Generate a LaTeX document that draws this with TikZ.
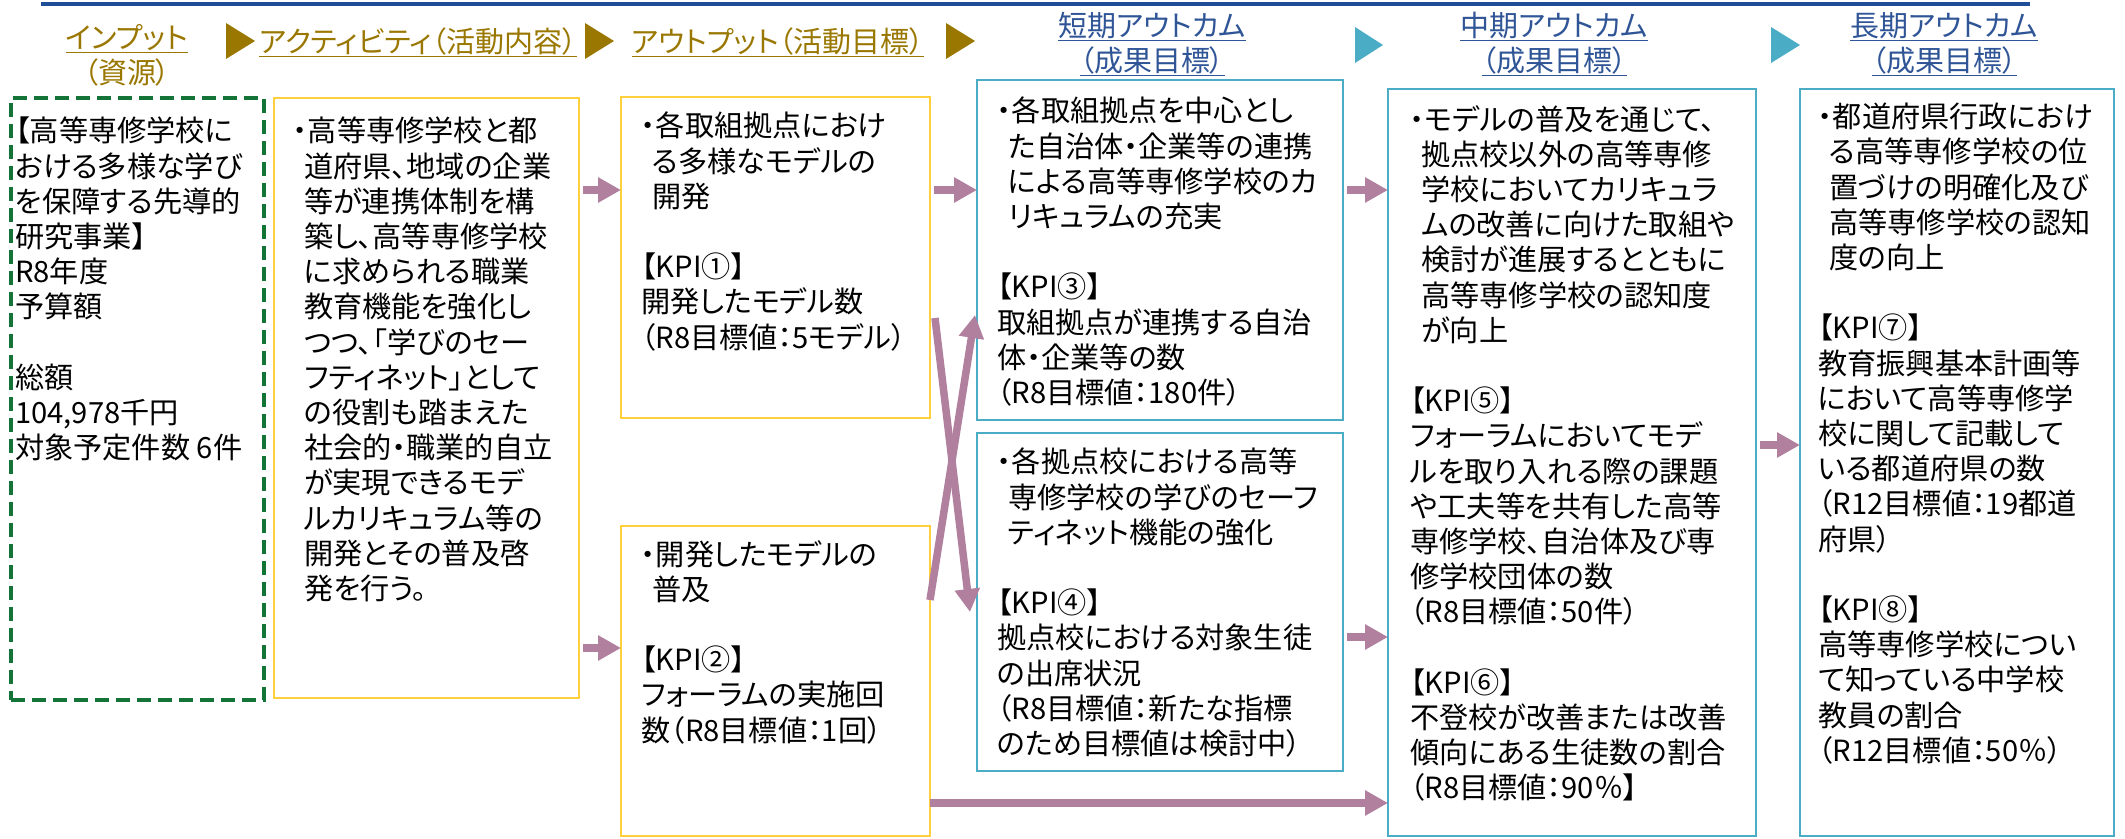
\documentclass[tikz,border=0pt]{standalone}
\usepackage{fontspec}
\usetikzlibrary{arrows.meta}
\newfontfamily\jp[RawFeature=+palt]{Noto Sans CJK JP}
\definecolor{hdgold}{RGB}{153,119,0}
\definecolor{hdblue}{RGB}{47,85,151}
\definecolor{rulblue}{RGB}{31,78,152}
\definecolor{boxyel}{RGB}{255,208,60}
\definecolor{boxteal}{RGB}{75,172,198}
\definecolor{boxgreen}{RGB}{20,115,55}
\definecolor{flowpink}{RGB}{176,128,158}
\newcommand\cont{\hspace*{11pt}}
\newcommand\skipline{\\[35.2pt]}

\begin{document}
\begin{tikzpicture}[x=1pt,y=-1pt,
  box/.style={line width=2.5pt,anchor=north west,inner sep=0pt,outer sep=0pt},
  ybox/.style={box,draw=boxyel},
  tbox/.style={box,draw=boxteal},
  gbox/.style={box,draw=boxgreen,line width=3.2pt,dash pattern=on 14pt off 7pt},
  txt/.style={anchor=north west,align=left,inner sep=0pt,font=\jp\fontsize{29.2}{35.2}\selectfont},
  head/.style={align=center,inner sep=0pt,font=\jp\fontsize{29}{35}\selectfont},
  flow/.style={draw=flowpink,line width=7.5pt,-{Triangle[length=23pt,width=24pt]}}]

\useasboundingbox (0,0) rectangle (2125,838);

% header
\draw[rulblue,line width=3.5pt] (41,4) -- (2030,4);
\node[head,text=hdgold] (inhead) at (127,55) {\underline{インプット}\\（資源）};
\node[head,text=hdgold] (acthead) at (418,42) {\underline{アクティビティ（活動内容）}};
\node[head,text=hdgold] (outhead) at (778,42) {\underline{アウトプット（活動目標）}};
\node[head,text=hdblue] (shorthead) at (1152,44) {\underline{短期アウトカム}\\\underline{（成果目標）}};
\node[head,text=hdblue] (midhead) at (1554,44) {\underline{中期アウトカム}\\\underline{（成果目標）}};
\node[head,text=hdblue] (longhead) at (1944,44) {\underline{長期アウトカム}\\\underline{（成果目標）}};
\fill[hdgold] (226,23) -- (255,41) -- (226,59) -- cycle;
\fill[hdgold] (585,23) -- (614,41) -- (585,59) -- cycle;
\fill[hdgold] (946,23) -- (975,41) -- (946,59) -- cycle;
\fill[boxteal] (1355,27) -- (1383,45) -- (1355,63) -- cycle;
\fill[boxteal] (1771,27) -- (1800,45) -- (1771,63) -- cycle;

% boxes
\node[gbox,minimum width=253pt,minimum height=602pt] (input) at (11,98) {};
\node[ybox,minimum width=305pt,minimum height=600pt] (act) at (274,98) {};
\node[ybox,minimum width=309pt,minimum height=321pt] (out1) at (621,97) {};
\node[ybox,minimum width=309pt,minimum height=310pt] (out2) at (621,526) {};
\node[tbox,minimum width=366pt,minimum height=340pt] (short1) at (977,80) {};
\node[tbox,minimum width=366pt,minimum height=338pt] (short2) at (977,433) {};
\node[tbox,minimum width=368pt,minimum height=747pt] (mid) at (1388,89) {};
\node[tbox,minimum width=314pt,minimum height=747pt] (long) at (1800,89) {};

% texts
\node[txt] (intext) at (15,117) {【高等専修学校に\\おける多様な学び\\を保障する先導的\\研究事業】\\R8年度\\予算額\skipline 総額\\104,978千円\\対象予定件数 6件};
\node[txt] (acttext) at (293,117) {・高等専修学校と都\\\cont 道府県、地域の企業\\\cont 等が連携体制を構\\\cont 築し、高等専修学校\\\cont に求められる職業\\\cont 教育機能を強化し\\\cont つつ、「学びのセー\\\cont フティネット」として\\\cont の役割も踏まえた\\\cont 社会的・職業的自立\\\cont が実現できるモデ\\\cont ルカリキュラム等の\\\cont 開発とその普及啓\\\cont 発を行う。};
\node[txt] (out1text) at (641,112) {・各取組拠点におけ\\\cont る多様なモデルの\\\cont 開発\skipline 【KPI①】\\開発したモデル数\\（R8目標値：5モデル）};
\node[txt] (out2text) at (641,540) {・開発したモデルの\\\cont 普及\skipline 【KPI②】\\フォーラムの実施回\\数（R8目標値：1回）};
\node[txt] (short1text) at (997,97) {・各取組拠点を中心とし\\\cont た自治体・企業等の連携\\\cont による高等専修学校のカ\\\cont リキュラムの充実\skipline 【KPI③】\\取組拠点が連携する自治\\体・企業等の数\\（R8目標値：180件）};
\node[txt] (short2text) at (997,448) {・各拠点校における高等\\\cont 専修学校の学びのセーフ\\\cont ティネット機能の強化\skipline 【KPI④】\\拠点校における対象生徒\\の出席状況\\（R8目標値：新たな指標\\のため目標値は検討中）};
\node[txt] (midtext) at (1410,105) {・モデルの普及を通じて、\\\cont 拠点校以外の高等専修\\\cont 学校においてカリキュラ\\\cont ムの改善に向けた取組や\\\cont 検討が進展するとともに\\\cont 高等専修学校の認知度\\\cont が向上\skipline 【KPI⑤】\\フォーラムにおいてモデ\\ルを取り入れる際の課題\\や工夫等を共有した高等\\専修学校、自治体及び専\\修学校団体の数\\（R8目標値：50件）\skipline 【KPI⑥】\\不登校が改善または改善\\傾向にある生徒数の割合\\（R8目標値：90％】};
\node[txt] (longtext) at (1818,103) {・都道府県行政におけ\\\cont る高等専修学校の位\\\cont 置づけの明確化及び\\\cont 高等専修学校の認知\\\cont 度の向上\skipline 【KPI⑦】\\教育振興基本計画等\\において高等専修学\\校に関して記載して\\いる都道府県の数\\（R12目標値：19都道\\府県）\skipline 【KPI⑧】\\高等専修学校につい\\て知っている中学校\\教員の割合\\（R12目標値：50％）};

% arrows
\draw[flow,shorten <=4pt] (act.east |- 0,190) to (out1.west |- 0,190);
\draw[flow,shorten <=4pt] (act.east |- 0,648) to (out2.west |- 0,648);
\draw[flow,shorten <=4pt] (out1.east |- 0,190) to (short1.west |- 0,190);
\draw[flow,shorten <=4pt] (short1.east |- 0,190) to (mid.west |- 0,190);
\draw[flow,shorten <=4pt] (short2.east |- 0,637) to (mid.west |- 0,637);
\draw[flow,shorten <=4pt] (mid.east |- 0,445) to (long.west |- 0,445);
\draw[flow] (out2.east |- 0,803) to (mid.west |- 0,803);
\draw[flow] ([xshift=5pt]out1.east |- 0,318) to ([xshift=-7pt]short2.west |- 0,612);
\draw[flow] (out2.east |- 0,600) to ([xshift=-2pt]short1.west |- 0,315);
\end{tikzpicture}
\end{document}
